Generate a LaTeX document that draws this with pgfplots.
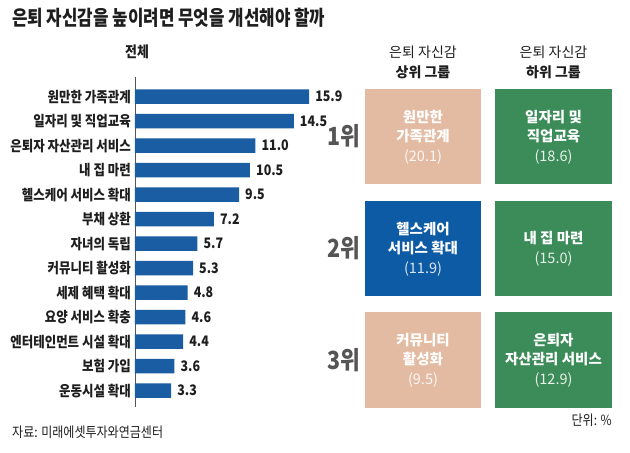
\documentclass[border=0pt]{standalone}
\usepackage{fontspec}
\usepackage{pgfplots}
\pgfplotsset{compat=1.18}
\setmainfont{Noto Sans CJK KR}
\newfontfamily\krc[FakeStretch=0.86]{Noto Sans CJK KR}
\newfontfamily\krt[FakeStretch=0.82]{Noto Sans CJK KR}
\newfontfamily\krn{Noto Sans CJK KR}
\definecolor{barblue}{RGB}{27,93,163}
\definecolor{boxblue}{RGB}{13,90,165}
\definecolor{peach}{RGB}{227,187,162}
\definecolor{grn}{RGB}{59,140,88}
\definecolor{rankgray}{RGB}{85,85,85}
\definecolor{txt}{RGB}{30,30,30}
\begin{document}
\begin{tikzpicture}
\path[use as bounding box] (0,0) rectangle (630pt,-453pt);
\fill[white] (0,0) rectangle (630pt,-453pt);
% title
\node[anchor=west, inner sep=0pt, text=txt] at (12pt,-18pt) {\krt\bfseries\fontsize{20.5}{22}\selectfont 은퇴 자신감을 높이려면 무엇을 개선해야 할까};
% headers
\node[inner sep=0pt, text=txt] at (137pt,-52pt) {\krc\bfseries\fontsize{15}{17}\selectfont 전체};
\node[inner sep=0pt, text=txt] at (423pt,-52pt) {\krn\fontsize{14}{16}\selectfont 은퇴 자신감};
\node[inner sep=0pt, text=txt] at (423pt,-72pt) {\krn\bfseries\fontsize{14}{16}\selectfont 상위 그룹};
\node[inner sep=0pt, text=txt] at (553.5pt,-52pt) {\krn\fontsize{14}{16}\selectfont 은퇴 자신감};
\node[inner sep=0pt, text=txt] at (553.5pt,-72pt) {\krn\bfseries\fontsize{14}{16}\selectfont 하위 그룹};
% bar chart
\begin{axis}[
  at={(135pt,-77pt)}, anchor=north west,
  scale only axis, width=175.2pt, height=330pt,
  xmin=0, xmax=16, ymin=-0.8, ymax=12.67, y dir=reverse,
  xbar, bar width=14.5pt,
  axis x line=none, axis y line*=left,
  y axis line style={draw=rankgray, line width=0.6pt},
  ytick={0,...,12}, major tick length=0pt,
  yticklabels={원만한 가족관계, 일자리 및 직업교육, 은퇴자 자산관리 서비스, 내 집 마련, 헬스케어 서비스 확대, 부채 상환, 자녀의 독립, 커뮤니티 활성화, 세제 혜택 확대, 요양 서비스 확충, 엔터테인먼트 시설 확대, 보험 가입, 운동시설 확대},
  yticklabel style={font=\krc\bfseries\fontsize{14.5}{16}\selectfont, text=txt, inner sep=0pt, xshift=-4pt},
  /pgf/number format/assume math mode=true,
  nodes near coords={\pgfmathprintnumber[fixed,fixed zerofill,precision=1]{\pgfplotspointmeta}},
  nodes near coords style={anchor=west, inner sep=0pt, xshift=6pt, font=\krc\bfseries\fontsize{14.5}{16}\selectfont, text=txt},
  clip=false,
]
\addplot[fill=barblue, draw=none] coordinates {
(15.9,0) (14.5,1) (11.0,2) (10.5,3) (9.5,4) (7.2,5) (5.7,6) (5.3,7) (4.8,8) (4.6,9) (4.4,10) (3.6,11) (3.3,12)};
\end{axis}
% rank labels
\foreach \r/\yy in {1/136.5, 2/248.5, 3/360}{
  \node[inner sep=0pt, text=rankgray] at (344pt,-\yy pt) {\krc\bfseries\fontsize{25}{26}\selectfont \r 위};
}
% boxes
\fill[peach] (365pt,-89pt) rectangle (481pt,-184pt);
\fill[grn] (495pt,-89pt) rectangle (612pt,-184pt);
\fill[boxblue] (365pt,-201pt) rectangle (481pt,-296pt);
\fill[grn] (495pt,-201pt) rectangle (612pt,-296pt);
\fill[peach] (365pt,-312pt) rectangle (481pt,-408pt);
\fill[grn] (495pt,-312pt) rectangle (612pt,-408pt);
\tikzset{bx/.style={align=center, inner sep=0pt, text=white, font=\krn\fontsize{14.5}{19.5}\selectfont}}
\node[bx] at (423pt,-137pt) {\textbf{원만한}\\\textbf{가족관계}\\\textcolor{white!88!peach}{(20.1)}};
\node[bx] at (553.5pt,-137pt) {\textbf{일자리 및}\\\textbf{직업교육}\\\textcolor{white!88!grn}{(18.6)}};
\node[bx] at (423pt,-249pt) {\textbf{헬스케어}\\\textbf{서비스 확대}\\\textcolor{white!85!boxblue}{(11.9)}};
\node[bx] at (553.5pt,-249pt) {\textbf{내 집 마련}\\\textcolor{white!88!grn}{(15.0)}};
\node[bx] at (423pt,-360pt) {\textbf{커뮤니티}\\\textbf{활성화}\\\textcolor{white!88!peach}{(9.5)}};
\node[bx] at (553.5pt,-360pt) {\textbf{은퇴자}\\\textbf{자산관리 서비스}\\\textcolor{white!88!grn}{(12.9)}};
% footer
\node[anchor=east, inner sep=0pt, text=txt] at (612pt,-420pt) {\krc\fontsize{14}{16}\selectfont 단위: \%};
\node[anchor=west, inner sep=0pt, text=txt] at (12pt,-432pt) {\krc\fontsize{14}{16}\selectfont 자료: 미래에셋투자와연금센터};
\end{tikzpicture}
\end{document}
